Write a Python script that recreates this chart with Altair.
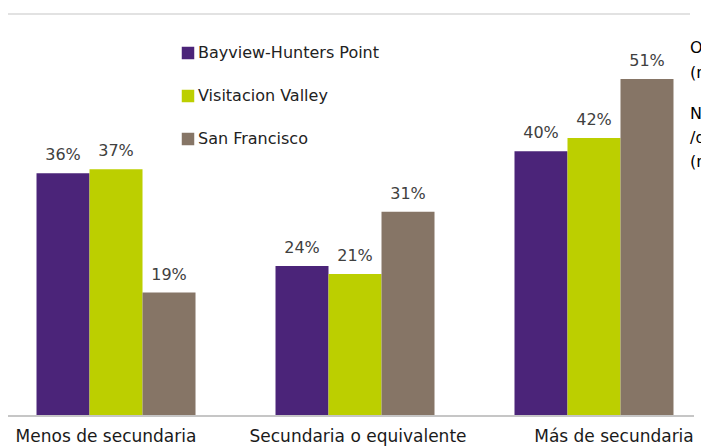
import altair as alt
import pandas as pd

categories = ["Menos de secundaria", "Secundaria o equivalente", "Más de secundaria"]
series = ["Bayview-Hunters Point", "Visitacion Valley", "San Francisco"]
# bar heights (percent), and the printed labels
bayview = [36.6, 22.6, 39.9]
visitacion = [37.2, 21.4, 41.9]
san_francisco = [18.6, 30.8, 50.8]
bayview_labels = ["36%", "24%", "40%"]
visitacion_labels = ["37%", "21%", "42%"]
san_francisco_labels = ["19%", "31%", "51%"]
colors = ["#4B2479", "#BCCF00", "#867566"]
right_note_1 = ["Otro", "(no hispano)"]
right_note_2 = ["Nativo Americano", "/de Alaska", "(no hispano)"]

rows = []
for s, vals, labs in zip(series,
                         [bayview, visitacion, san_francisco],
                         [bayview_labels, visitacion_labels, san_francisco_labels]):
    for c, v, l in zip(categories, vals, labs):
        rows.append({"category": c, "series": s, "value": v, "label": l})
df = pd.DataFrame(rows)

FONT = "DejaVu Sans"

base = alt.Chart(df).encode(
    x=alt.X(
        "category:N",
        sort=categories,
        scale=alt.Scale(paddingInner=0.3347, paddingOuter=0.1172, align=0.509),
        axis=alt.Axis(
            title=None, labelAngle=0, domain=False, ticks=False,
            labelFontSize=17, labelFont=FONT, labelColor="#1a1a1a", labelPadding=12,
            labelLimit=0,
            labelOffset={
                "condition": [
                    {"test": "datum.value == 'Menos de secundaria'", "value": -10},
                    {"test": "datum.value == 'Más de secundaria'", "value": 20},
                ],
                "value": 3,
            },
        ),
    ),
    xOffset=alt.XOffset("series:N", sort=series, scale=alt.Scale(paddingInner=0, paddingOuter=0)),
    y=alt.Y("value:Q", scale=alt.Scale(domain=[0, 60.6], nice=False, zero=True), axis=None),
)

bars = base.mark_bar().encode(
    color=alt.Color(
        "series:N",
        sort=series,
        scale=alt.Scale(domain=series, range=colors),
        legend=alt.Legend(
            orient="none", legendX=172, legendY=31, title=None,
            symbolType="square", symbolSize=156, symbolStrokeWidth=0, symbolOpacity=1,
            labelFontSize=16, labelFont=FONT, labelColor="#222222", labelOffset=2,
            labelLimit=0, rowPadding=27, padding=0,
        ),
    )
)

labels = base.mark_text(
    baseline="alphabetic", dy=-13, fontSize=16, font=FONT, color="#404040"
).encode(text="label:N")

one = alt.Chart(pd.DataFrame({"a": [0]}))

top_line = one.mark_rule(color="#d9d9d9", strokeWidth=1.5).encode(
    x=alt.value(0), x2=alt.value(682), y=alt.value(0)
)
base_line = one.mark_rule(color="#c6c6c6", strokeWidth=2).encode(
    x=alt.value(0), x2=alt.value(686), y=alt.value(402)
)

note1 = one.mark_text(
    align="left", baseline="middle", fontSize=16, font=FONT, color="#000000", lineHeight=25,
    text=right_note_1,
).encode(x=alt.value(682), y=alt.value(34))

note2 = one.mark_text(
    align="left", baseline="middle", fontSize=16, font=FONT, color="#000000", lineHeight=24,
    text=right_note_2,
).encode(x=alt.value(682), y=alt.value(100))

chart = alt.layer(top_line, bars, labels, base_line, note1, note2).properties(
    width=693,
    height=402,
    autosize=alt.AutoSizeParams(type="none"),
    padding={"left": 0, "top": 6, "right": 0, "bottom": 30},
    background="white",
).configure_view(stroke=None)

chart.save("out.html", embed_options={"renderer": "svg", "actions": False})
